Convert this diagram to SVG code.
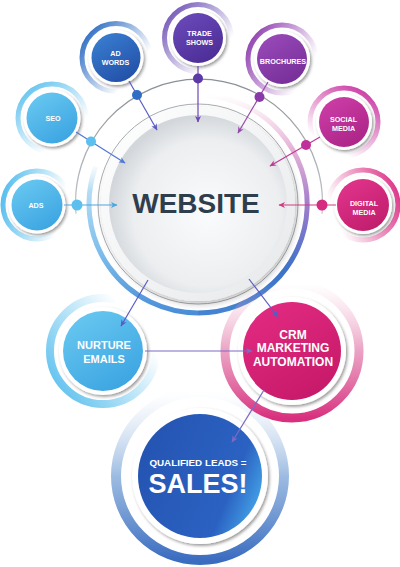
<svg xmlns="http://www.w3.org/2000/svg" width="400" height="567" viewBox="0 0 400 567">
<style>
.lbl{font-family:"Liberation Sans",Arial,sans-serif;font-weight:bold;fill:#fff;text-anchor:middle}
.s{font-size:7.2px}
.m{font-size:11px}
.c{fill:none;stroke-width:1.2}
.rim{fill:#fff;filter:url(#sh)}
.halo{fill:none;stroke-width:5}
</style>
<defs>
<filter id="sh" x="-30%" y="-30%" width="160%" height="160%"><feDropShadow dx="1.5" dy="1.8" stdDeviation="1.6" flood-color="#000" flood-opacity="0.4"/></filter>
<filter id="shw" x="-20%" y="-20%" width="140%" height="140%"><feDropShadow dx="2" dy="3" stdDeviation="3" flood-color="#000" flood-opacity="0.25"/></filter>
<radialGradient id="gW" cx="0.55" cy="0.55" r="0.55"><stop offset="0" stop-color="#fafbfc"/><stop offset="0.75" stop-color="#eceef0"/><stop offset="1" stop-color="#d3d7db"/></radialGradient>
<linearGradient id="gRim" x1="0" y1="0" x2="1" y2="1"><stop offset="0" stop-color="#ffffff"/><stop offset="1" stop-color="#e6e8ea"/></linearGradient>
<linearGradient id="dLb" x1="0" y1="0" x2="0.6" y2="1"><stop offset="0" stop-color="#6ccbf2"/><stop offset="1" stop-color="#3ea6e2"/></linearGradient>
<linearGradient id="dBl" x1="0" y1="0" x2="0.6" y2="1"><stop offset="0" stop-color="#3b82d4"/><stop offset="1" stop-color="#2452aa"/></linearGradient>
<linearGradient id="dPu" x1="0" y1="0" x2="0.6" y2="1"><stop offset="0" stop-color="#6c4cbc"/><stop offset="1" stop-color="#4e2f98"/></linearGradient>
<linearGradient id="dVi" x1="0" y1="0" x2="0.6" y2="1"><stop offset="0" stop-color="#9c4cbc"/><stop offset="1" stop-color="#78309a"/></linearGradient>
<linearGradient id="dMg" x1="0" y1="0" x2="0.6" y2="1"><stop offset="0" stop-color="#d040aa"/><stop offset="1" stop-color="#ad2688"/></linearGradient>
<linearGradient id="dPk" x1="0" y1="0" x2="0.6" y2="1"><stop offset="0" stop-color="#e4368e"/><stop offset="1" stop-color="#c21e6e"/></linearGradient>
<linearGradient id="dCrm" x1="0" y1="0" x2="0.6" y2="1"><stop offset="0" stop-color="#e42c84"/><stop offset="1" stop-color="#c81a6a"/></linearGradient>
<linearGradient id="dSal" x1="0" y1="0.3" x2="1" y2="0.7"><stop offset="0" stop-color="#2554b2"/><stop offset="0.75" stop-color="#2b62c2"/><stop offset="1" stop-color="#44a4e8"/></linearGradient>
<linearGradient id="hAds" x1="0" y1="0.4" x2="0.85" y2="0.6"><stop offset="0" stop-color="#5cc0ee"/><stop offset="1" stop-color="#5cc0ee" stop-opacity="0"/></linearGradient>
<linearGradient id="hSeo" x1="0.1" y1="0" x2="0.9" y2="1"><stop offset="0" stop-color="#5cc0ee"/><stop offset="0.75" stop-color="#5cc0ee" stop-opacity="0"/></linearGradient>
<linearGradient id="hAdw" x1="0" y1="0.2" x2="0.9" y2="0.9"><stop offset="0" stop-color="#2f6ec4"/><stop offset="0.8" stop-color="#2f6ec4" stop-opacity="0"/></linearGradient>
<linearGradient id="hTr" x1="0" y1="0" x2="1" y2="0.9"><stop offset="0" stop-color="#6244b0"/><stop offset="0.8" stop-color="#6244b0" stop-opacity="0"/></linearGradient>
<linearGradient id="hBr" x1="0" y1="0.2" x2="1" y2="0.8"><stop offset="0" stop-color="#9040b0"/><stop offset="0.85" stop-color="#9040b0" stop-opacity="0"/></linearGradient>
<linearGradient id="hSo" x1="0.8" y1="0" x2="0.2" y2="1"><stop offset="0" stop-color="#cc3aa4"/><stop offset="0.85" stop-color="#cc3aa4" stop-opacity="0"/></linearGradient>
<linearGradient id="hDi" x1="1" y1="0.3" x2="0" y2="0.7"><stop offset="0" stop-color="#de3a8c"/><stop offset="0.9" stop-color="#de3a8c" stop-opacity="0"/></linearGradient>
<linearGradient id="hNu" x1="0" y1="0.85" x2="1" y2="0.1"><stop offset="0" stop-color="#5cc0ee"/><stop offset="0.8" stop-color="#5cc0ee" stop-opacity="0"/></linearGradient>
<linearGradient id="hCrm" x1="0.5" y1="1" x2="0.5" y2="0"><stop offset="0" stop-color="#d8307e"/><stop offset="0.5" stop-color="#e27aaa" stop-opacity="0.7"/><stop offset="1" stop-color="#f0b0cc" stop-opacity="0"/></linearGradient>
<linearGradient id="hSal" x1="0.5" y1="1" x2="0.5" y2="0"><stop offset="0" stop-color="#3a6cc0"/><stop offset="0.5" stop-color="#8cb0dc" stop-opacity="0.85"/><stop offset="1" stop-color="#c8daf0" stop-opacity="0"/></linearGradient>
<linearGradient id="rA" gradientUnits="userSpaceOnUse" x1="0" y1="95" x2="0" y2="313"><stop offset="0" stop-color="#e8a0c8" stop-opacity="0"/><stop offset="0.25" stop-color="#d890c4" stop-opacity="0.7"/><stop offset="0.5" stop-color="#a07ccc"/><stop offset="0.8" stop-color="#3c72c8"/><stop offset="1" stop-color="#4484d2"/></linearGradient>
<linearGradient id="rB" gradientUnits="userSpaceOnUse" x1="0" y1="313" x2="0" y2="160"><stop offset="0" stop-color="#4a8ed8"/><stop offset="0.4" stop-color="#7ebeec"/><stop offset="0.8" stop-color="#b4dcf4"/><stop offset="1" stop-color="#d8ecf8" stop-opacity="0"/></linearGradient>
<linearGradient id="gO" gradientUnits="userSpaceOnUse" x1="0" y1="80" x2="0" y2="214"><stop offset="0" stop-color="#8a9096"/><stop offset="1" stop-color="#c4c8cc"/></linearGradient>
<marker id="aLb" markerUnits="userSpaceOnUse" markerWidth="8" markerHeight="8" refX="6" refY="3.5" orient="auto"><path d="M0,0.5 L6.5,3.5 L0,6.5 L1.8,3.5 Z" fill="#4aa6e0"/></marker>
<marker id="aBl" markerUnits="userSpaceOnUse" markerWidth="8" markerHeight="8" refX="6" refY="3.5" orient="auto"><path d="M0,0.5 L6.5,3.5 L0,6.5 L1.8,3.5 Z" fill="#4f78d4"/></marker>
<marker id="aBv" markerUnits="userSpaceOnUse" markerWidth="8" markerHeight="8" refX="6" refY="3.5" orient="auto"><path d="M0,0.5 L6.5,3.5 L0,6.5 L1.8,3.5 Z" fill="#5a5cc4"/></marker>
<marker id="aPu" markerUnits="userSpaceOnUse" markerWidth="8" markerHeight="8" refX="6" refY="3.5" orient="auto"><path d="M0,0.5 L6.5,3.5 L0,6.5 L1.8,3.5 Z" fill="#6b48b4"/></marker>
<marker id="aVi" markerUnits="userSpaceOnUse" markerWidth="8" markerHeight="8" refX="6" refY="3.5" orient="auto"><path d="M0,0.5 L6.5,3.5 L0,6.5 L1.8,3.5 Z" fill="#9848ac"/></marker>
<marker id="aMg" markerUnits="userSpaceOnUse" markerWidth="8" markerHeight="8" refX="6" refY="3.5" orient="auto"><path d="M0,0.5 L6.5,3.5 L0,6.5 L1.8,3.5 Z" fill="#bf3a96"/></marker>
<marker id="aPk" markerUnits="userSpaceOnUse" markerWidth="8" markerHeight="8" refX="6" refY="3.5" orient="auto"><path d="M0,0.5 L6.5,3.5 L0,6.5 L1.8,3.5 Z" fill="#d23a82"/></marker>
<marker id="aLp" markerUnits="userSpaceOnUse" markerWidth="8" markerHeight="8" refX="6" refY="3.5" orient="auto"><path d="M0,0.5 L6.5,3.5 L0,6.5 L1.8,3.5 Z" fill="#7c6ac6"/></marker>
</defs>

<g id="website">
  <path d="M 76 213.8 A 123.5 123.5 0 1 1 322 213.8" fill="none" stroke="url(#gO)" stroke-width="1.3"/>
  <path d="M 207.5 95.4 A 109 109 0 0 1 198 313" fill="none" stroke="url(#rA)" stroke-width="5"/>
  <path d="M 198 313 A 109 109 0 0 1 95.6 166.7" fill="none" stroke="url(#rB)" stroke-width="5"/>
  <circle cx="198" cy="204" r="100" fill="none" stroke="#a8adb2" stroke-width="1"/>
  <circle cx="198" cy="204" r="97" fill="url(#gRim)" filter="url(#shw)"/>
  <circle cx="198" cy="204" r="89" fill="url(#gW)"/>
  <text x="196" y="213" font-family="'Liberation Sans',Arial,sans-serif" font-weight="bold" font-size="28" fill="#2f3e4d" text-anchor="middle">WEBSITE</text>
</g>

<g id="sales">
  <circle cx="200" cy="476" r="84" fill="none" stroke="url(#hSal)" stroke-width="10"/>
  <circle class="rim" cx="200" cy="476" r="68"/>
  <circle cx="200" cy="476" r="62" fill="url(#dSal)"/>
  <text class="lbl" x="198" y="466" font-size="9.8">QUALIFIED LEADS =</text>
  <text class="lbl" x="198" y="493" font-size="27">SALES!</text>
</g>

<g id="nurture">
  <circle cx="103" cy="351" r="53" fill="none" stroke="url(#hNu)" stroke-width="8"/>
  <circle class="rim" cx="103" cy="351" r="44"/>
  <circle cx="103" cy="351" r="40" fill="url(#dLb)"/>
  <text class="lbl m" x="104" y="349">NURTURE</text>
  <text class="lbl m" x="104" y="363">EMAILS</text>
</g>

<g id="crm">
  <circle cx="292" cy="351" r="67" fill="none" stroke="url(#hCrm)" stroke-width="9"/>
  <circle class="rim" cx="292" cy="351" r="54"/>
  <circle cx="292" cy="351" r="49" fill="url(#dCrm)"/>
  <text class="lbl" x="293" y="338.5" font-size="12">CRM</text>
  <text class="lbl" x="293" y="352" font-size="12">MARKETING</text>
  <text class="lbl" x="293" y="365.5" font-size="12">AUTOMATION</text>
</g>

<g id="ads">
  <circle class="halo" cx="37" cy="205" r="34" stroke="url(#hAds)"/>
  <circle class="rim" cx="37" cy="205" r="28.5"/>
  <circle cx="37" cy="205" r="25.5" fill="url(#dLb)"/>
  <text class="lbl s" x="36" y="208">ADS</text>
</g>

<g id="seo">
  <circle class="halo" cx="52" cy="118" r="34" stroke="url(#hSeo)"/>
  <circle class="rim" cx="52" cy="118" r="28.5"/>
  <circle cx="52" cy="118" r="25.5" fill="url(#dLb)"/>
  <text class="lbl s" x="53" y="120.5">SEO</text>
</g>

<g id="adwords">
  <circle class="halo" cx="116" cy="57.5" r="34" stroke="url(#hAdw)"/>
  <circle class="rim" cx="116" cy="57.5" r="27.5"/>
  <circle cx="116" cy="57.5" r="24.5" fill="url(#dBl)"/>
  <text class="lbl s" x="115.5" y="55.5">AD</text>
  <text class="lbl s" x="115.5" y="64.5">WORDS</text>
</g>

<g id="tradeshows">
  <circle class="halo" cx="198" cy="38" r="33.5" stroke="url(#hTr)"/>
  <circle class="rim" cx="198" cy="38" r="28"/>
  <circle cx="198" cy="38" r="25" fill="url(#dPu)"/>
  <text class="lbl s" x="199.5" y="36">TRADE</text>
  <text class="lbl s" x="199.5" y="44.5">SHOWS</text>
</g>

<g id="brochures">
  <circle class="halo" cx="282" cy="59" r="34" stroke="url(#hBr)"/>
  <circle class="rim" cx="282" cy="59" r="28"/>
  <circle cx="282" cy="59" r="25" fill="url(#dVi)"/>
  <text class="lbl s" x="283" y="63.5">BROCHURES</text>
</g>

<g id="socialmedia">
  <circle class="halo" cx="344" cy="122" r="34" stroke="url(#hSo)"/>
  <circle class="rim" cx="344" cy="122" r="28"/>
  <circle cx="344" cy="122" r="25" fill="url(#dMg)"/>
  <text class="lbl s" x="343.5" y="122">SOCIAL</text>
  <text class="lbl s" x="343.5" y="131">MEDIA</text>
</g>

<g id="digitalmedia">
  <circle class="halo" cx="363" cy="205" r="35" stroke="url(#hDi)"/>
  <circle class="rim" cx="363" cy="205" r="29"/>
  <circle cx="363" cy="205" r="26" fill="url(#dPk)"/>
  <text class="lbl s" x="364" y="206">DIGITAL</text>
  <text class="lbl s" x="364" y="215">MEDIA</text>
</g>

<g id="connectors">
  <line class="c" x1="64" y1="205" x2="117" y2="205" stroke="#4aa6e0" marker-end="url(#aLb)"/>
  <circle cx="77" cy="205" r="5.5" fill="#5cc0ee"/>
  <line class="c" x1="76" y1="132" x2="125" y2="163" stroke="#4f78d4" marker-end="url(#aBl)"/>
  <circle cx="91" cy="141.5" r="5" fill="#5cc0ee"/>
  <line class="c" x1="129" y1="81" x2="157" y2="130" stroke="#5a5cc4" marker-end="url(#aBv)"/>
  <circle cx="137" cy="95" r="5" fill="#2f6ec4"/>
  <line class="c" x1="198" y1="66" x2="198" y2="122" stroke="#6b48b4" marker-end="url(#aPu)"/>
  <circle cx="198" cy="78.5" r="5" fill="#5b3aa8"/>
  <line class="c" x1="268" y1="82" x2="238" y2="133" stroke="#9848ac" marker-end="url(#aVi)"/>
  <circle cx="259.5" cy="97" r="5" fill="#8a3aa8"/>
  <line class="c" x1="320" y1="137" x2="270" y2="166" stroke="#bf3a96" marker-end="url(#aMg)"/>
  <circle cx="306" cy="145" r="5" fill="#c0309a"/>
  <line class="c" x1="336" y1="205" x2="279" y2="205" stroke="#d23a82" marker-end="url(#aPk)"/>
  <circle cx="322" cy="205" r="5.5" fill="#d62a80"/>
  <line class="c" x1="148" y1="280" x2="121" y2="326" stroke="#5a5cc4" marker-end="url(#aBv)"/>
  <line class="c" x1="249" y1="279" x2="278" y2="317" stroke="#5a5cc4" marker-end="url(#aBv)"/>
  <line class="c" x1="145" y1="351" x2="252" y2="351" stroke="#7c6ac6" marker-end="url(#aLp)"/>
  <line class="c" x1="264" y1="390" x2="232" y2="442" stroke="#7c6ac6" marker-end="url(#aLp)"/>
</g>
</svg>
